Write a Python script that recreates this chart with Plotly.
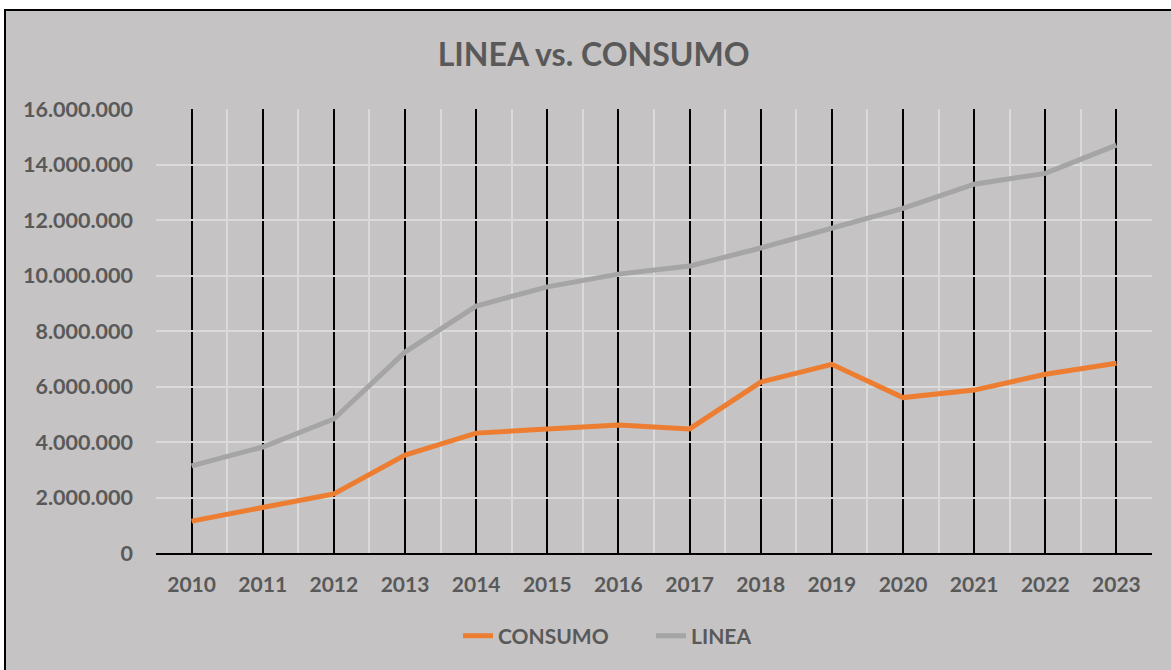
import plotly.graph_objects as go

years = [2010, 2011, 2012, 2013, 2014, 2015, 2016, 2017, 2018, 2019, 2020, 2021, 2022, 2023]
consumo = [1150000, 1660000, 2130000, 3530000, 4320000, 4470000, 4610000, 4470000,
           6160000, 6800000, 5600000, 5870000, 6440000, 6840000]
linea = [3140000, 3820000, 4830000, 7240000, 8900000, 9590000, 10050000, 10340000,
         10990000, 11710000, 12420000, 13290000, 13680000, 14700000]
y_ticks = [0, 2000000, 4000000, 6000000, 8000000, 10000000, 12000000, 14000000, 16000000]

FONT = "Lato"
TXT = "#595959"
BG = "#C5C3C4"

W, H = 1171, 670
L, R, T, B = 156, 19, 109, 117
pw, ph = W - L - R, H - T - B

fig = go.Figure()
fig.add_trace(go.Scatter(x=years, y=consumo, name="CONSUMO", mode="lines",
                         line=dict(color="#ED7D31", width=5)))
fig.add_trace(go.Scatter(x=years, y=linea, name="LINEA", mode="lines",
                         line=dict(color="#A5A5A5", width=5)))

# chart-area background with black border
fig.add_shape(type="rect", xref="paper", yref="paper",
              x0=(5 - L) / pw, x1=(W + 10 - L) / pw,
              y0=-(H + 10 - (T + ph)) / ph, y1=(T + ph - 10) / ph,
              fillcolor=BG, line=dict(color="black", width=2), layer="below")

half = [years[0] - 0.5 + i for i in range(len(years) + 1)]

fig.update_layout(
    width=W, height=H,
    margin=dict(l=L, r=R, t=T, b=B),
    paper_bgcolor="white",
    plot_bgcolor="rgba(0,0,0,0)",
    separators=",.",
    title=dict(text="LINEA vs. CONSUMO", x=0.507, xanchor="center", y=1 - 55 / H, yanchor="middle",
               font=dict(family=FONT, size=32, color=TXT, weight=700)),
    legend=dict(orientation="h", x=0.497, xanchor="center", y=1 - 636 / H, yref="container",
                yanchor="middle", bgcolor="rgba(0,0,0,0)", entrywidth=148,
                font=dict(family=FONT, size=21, color=TXT, weight=700)),
    xaxis=dict(range=[years[0] - 0.5, years[-1] + 0.5], tickvals=years,
               ticktext=[str(y) for y in years],
               showgrid=True, gridcolor="black", gridwidth=2,
               minor=dict(tickvals=half, showgrid=True, gridcolor="#DADADA", gridwidth=2),
               showline=True, linecolor="black", linewidth=2, ticks="",
               ticklabelstandoff=12,
               tickfont=dict(family=FONT, size=21, color=TXT, weight=700), zeroline=False),
    yaxis=dict(range=[0, 16000000], tickvals=y_ticks, tickformat=",d",
               showgrid=True, gridcolor="#DADADA", gridwidth=2, zeroline=False,
               showline=False, ticks="", ticklabelstandoff=22,
               tickfont=dict(family=FONT, size=21.5, color=TXT, weight=700)),
)

fig.write_html("out.html", config={"displayModeBar": False},
               post_script="document.body.style.margin='0';")
